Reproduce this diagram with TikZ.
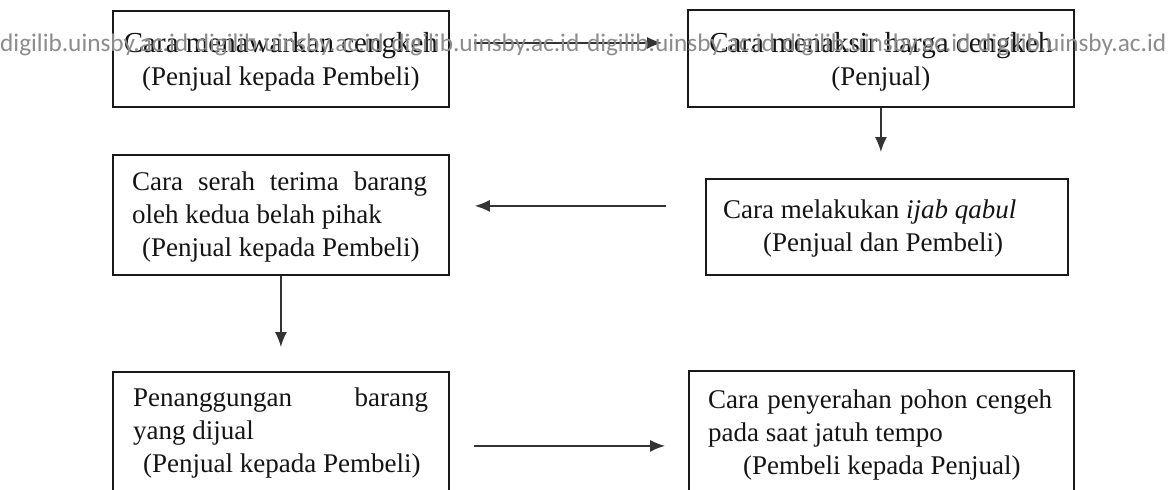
\documentclass[tikz,border=0pt]{standalone}
\usepackage{fontspec}
\setmainfont{Liberation Serif}
\newfontfamily\wmfont{Carlito}
\usetikzlibrary{arrows.meta}

\begin{document}
\begin{tikzpicture}[x=1pt,y=-1pt,
  kotak/.style={draw=black!90,line width=1.8pt,anchor=north west,inner sep=0pt},
  isi/.style={anchor=west,align=left,inner sep=0pt,text=black!92,font=\fontsize{27}{33}\selectfont},
  panah/.style={-{Latex[length=15pt,width=12pt]},line width=1.5pt,draw=black!80},
  wm/.style={anchor=west,inner sep=0pt,text=black!45,font=\wmfont\fontsize{25.3}{30}\selectfont}]
  \useasboundingbox (0,0) rectangle (1168,490);
  \clip (0,0) rectangle (1168,490);

  \node[kotak,minimum width=336pt,minimum height=96pt] (b1) at (112,10) {};
  \node[kotak,minimum width=386pt,minimum height=97pt] (b2) at (687,9) {};
  \node[kotak,minimum width=336pt,minimum height=120pt] (b3) at (112,154) {};
  \node[kotak,minimum width=362pt,minimum height=96pt] (b4) at (705,178) {};
  \node[kotak,minimum width=336pt,minimum height=122pt] (b5) at (112,371) {};
  \node[kotak,minimum width=385pt,minimum height=123pt] (b6) at (688,370) {};

  \node[isi,anchor=center,align=center,yshift=-3pt] (t1) at (b1.center)
    {{\fontsize{29}{33}\selectfont Cara menawarkan cengkeh}\\(Penjual kepada Pembeli)};
  \node[isi,anchor=center,align=center,yshift=-3pt] (t2) at (b2.center)
    {{\fontsize{29}{33}\selectfont Cara menaksir harga cengkeh}\\(Penjual)};
  \node[isi] (t3) at ([xshift=20pt,yshift=-2pt]b3.west)
    {\makebox[295pt][s]{Cara serah terima barang}\\oleh kedua belah pihak\\\hspace*{10pt}(Penjual kepada Pembeli)};
  \node[isi] (t4) at ([xshift=18pt,yshift=-2pt]b4.west)
    {Cara melakukan \textit{ijab qabul}\\\hspace*{40pt}(Penjual dan Pembeli)};
  \node[isi] (t5) at ([xshift=21pt]b5.west)
    {\makebox[295pt][s]{Penanggungan barang}\\yang dijual\\\hspace*{10pt}(Penjual kepada Pembeli)};
  \node[isi] (t6) at ([xshift=20pt,yshift=-3pt]b6.west)
    {\makebox[344pt][s]{Cara penyerahan pohon cengeh}\\pada saat jatuh tempo\\\hspace*{35pt}(Pembeli kepada Penjual)};

  \draw[panah,shorten <=24pt,shorten >=25pt] ([yshift=16pt]b1.east) -- ([yshift=16pt]b1.east -| b2.west);
  \draw[panah,shorten >=26pt] (b2.south) -- (b2.south |- b4.north);
  \draw[panah,shorten <=39pt,shorten >=25pt] ([yshift=21pt]b4.west) -- ([yshift=21pt]b4.west -| b3.east);
  \draw[panah,shorten >=24pt] (b3.south) -- (b3.south |- b5.north);
  \draw[panah,shorten <=24pt,shorten >=23pt] ([yshift=-13pt]b5.east) -- ([yshift=-13pt]b5.east -| b6.west);

  \foreach \i in {0,...,5}{
    \node[wm] (wm\i) at (\i*195.6,45) {digilib.uinsby.ac.id};
  }
\end{tikzpicture}
\end{document}
